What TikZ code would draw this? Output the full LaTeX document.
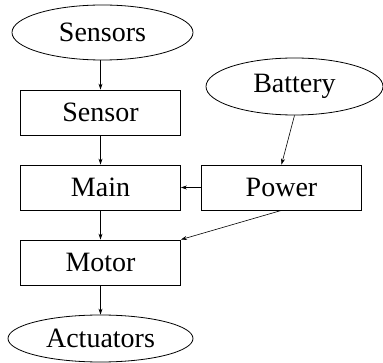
\documentclass[tikz,border=0pt]{standalone}
\usepackage{fontspec}
\setmainfont{Liberation Serif}
\usetikzlibrary{shapes.geometric,arrows.meta}
\tikzset{
  blk/.style={draw,line width=0.8pt,rectangle,minimum width=160pt,minimum height=45pt,inner sep=0pt},
  io/.style={draw,line width=0.8pt,ellipse,inner sep=0pt},
  wire/.style={line width=0.6pt,-{Stealth[length=6pt,width=4pt]}}
}
\begin{document}
\begin{tikzpicture}[x=1pt,y=-1pt,font=\fontsize{28}{32}\selectfont]
\useasboundingbox (0,0) rectangle (383,363);
\node[io,minimum width=181pt,minimum height=55pt] (sensors) at (102.5,32.5) {Sensors};
\node[io,minimum width=177pt,minimum height=57pt] (battery) at (294.5,86.5) {Battery};
\node[blk] (sensor) at (100.5,112.5) {Sensor};
\node[blk] (main) at (100.5,187.5) {Main};
\node[blk] (power) at (281.5,187.5) {Power};
\node[blk] (motor) at (100.5,262.5) {Motor};
\node[io,minimum width=185pt,minimum height=47pt] (actuators) at (100.5,338.5) {Actuators};
\draw[wire] (sensors.south -| sensor.north) -- (sensor.north);
\draw[wire] (sensor) -- (main);
\draw[wire] (main) -- (motor);
\draw[wire] (motor) -- (actuators);
\draw[wire] (power) -- (main);
\draw[wire] (battery.south) -- (power.north);
\draw[wire] (power.south) -- (motor.north east);
\end{tikzpicture}
\end{document}
